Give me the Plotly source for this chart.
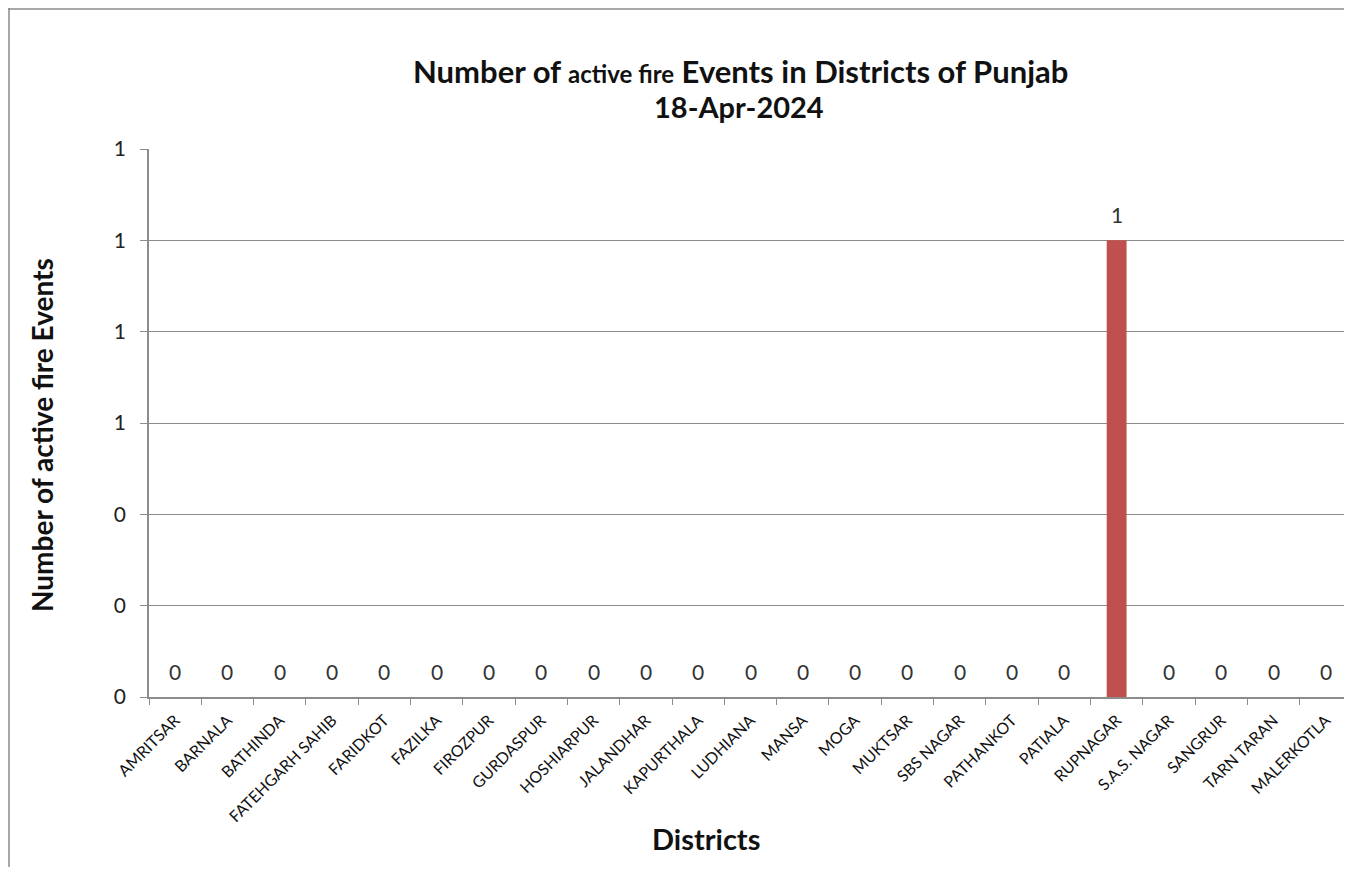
import plotly.graph_objects as go

districts = ["AMRITSAR", "BARNALA", "BATHINDA", "FATEHGARH SAHIB", "FARIDKOT", "FAZILKA",
             "FIROZPUR", "GURDASPUR", "HOSHIARPUR", "JALANDHAR", "KAPURTHALA", "LUDHIANA",
             "MANSA", "MOGA", "MUKTSAR", "SBS NAGAR", "PATHANKOT", "PATIALA", "RUPNAGAR",
             "S.A.S. NAGAR", "SANGRUR", "TARN TARAN", "MALERKOTLA"]
events = [0, 0, 0, 0, 0, 0, 0, 0, 0, 0, 0, 0, 0, 0, 0, 0, 0, 0, 1, 0, 0, 0, 0]
y_tick_values = [0, 0.2, 0.4, 0.6, 0.8, 1.0, 1.2]
y_tick_labels = ["0", "0", "0", "1", "1", "1", "1"]

FONT = "Lato"
GRAY = "#8c8c8c"

W, H = 1344, 859
L, R, T, B = 141, 0, 141, 170
PW, PH = W - L - R, H - T - B
OFF = 8  # page body margin


def px(xp):
    return (xp - OFF - L) / PW


def py(yp):
    return 1 - (yp - OFF - T) / PH


fig = go.Figure(go.Bar(
    x=districts, y=events,
    marker=dict(color="#C0504D", line=dict(width=0)),
    width=0.38,
    hoverinfo="x+y",
))

# data labels above each bar
for d, v in zip(districts, events):
    fig.add_annotation(x=d, y=v, xref="x", yref="y", text=str(v),
                       showarrow=False, yanchor="bottom", yshift=11,
                       font=dict(size=21, family=FONT, color="#333333"))

fig.update_layout(
    width=W, height=H,
    paper_bgcolor="white", plot_bgcolor="white",
    margin=dict(l=L, r=R, t=T, b=B),
    font=dict(family=FONT, color="#222222"),
    showlegend=False,
)

# title (two lines)
fig.add_annotation(xref="paper", yref="paper", x=px(740), y=py(71),
                   xanchor="center", yanchor="middle", showarrow=False,
                   text="<b>Number of <span style='font-size:24px'>active fire</span> Events in Districts of Punjab</b>",
                   font=dict(size=31, family=FONT, color="#111111"))
fig.add_annotation(xref="paper", yref="paper", x=px(739), y=py(107),
                   xanchor="center", yanchor="middle", showarrow=False,
                   text="<b>18-Apr-2024</b>",
                   font=dict(size=29, family=FONT, color="#111111"))

fig.update_xaxes(
    showline=True, linecolor=GRAY, linewidth=1.5,
    ticks="outside", ticklen=6, tickcolor=GRAY, tickson="boundaries",
    tickangle=-45, tickfont=dict(size=16, family=FONT, color="#111111"),
    ticklabelstandoff=6,
    showgrid=False,
)
fig.update_yaxes(
    range=[0, 1.2], tickvals=y_tick_values, ticktext=y_tick_labels,
    showline=True, linecolor=GRAY, linewidth=1.5,
    ticks="outside", ticklen=7, tickcolor=GRAY,
    showgrid=True, gridcolor=GRAY, gridwidth=1,
    zeroline=False, ticklabelstandoff=10,
    tickfont=dict(size=21, family=FONT, color="#222222"),
)

# axis titles
fig.add_annotation(xref="paper", yref="paper", x=px(706), y=py(838),
                   xanchor="center", yanchor="middle", showarrow=False,
                   text="<b>Districts</b>", font=dict(size=29, family=FONT, color="#111111"))
fig.add_annotation(xref="paper", yref="paper", x=px(42), y=py(435),
                   xanchor="center", yanchor="middle", showarrow=False, textangle=-90,
                   text="<b>Number of active fire Events</b>",
                   font=dict(size=28, family=FONT, color="#111111"))

# chart border (top and left visible)
fig.add_shape(type="line", xref="paper", yref="paper",
              x0=px(OFF), x1=1.01, y0=py(OFF + 1), y1=py(OFF + 1),
              line=dict(color=GRAY, width=1.5))
fig.add_shape(type="line", xref="paper", yref="paper",
              x0=px(OFF + 1), x1=px(OFF + 1), y0=py(OFF + H), y1=py(OFF),
              line=dict(color=GRAY, width=1.5))

fig.write_html("out.html")
